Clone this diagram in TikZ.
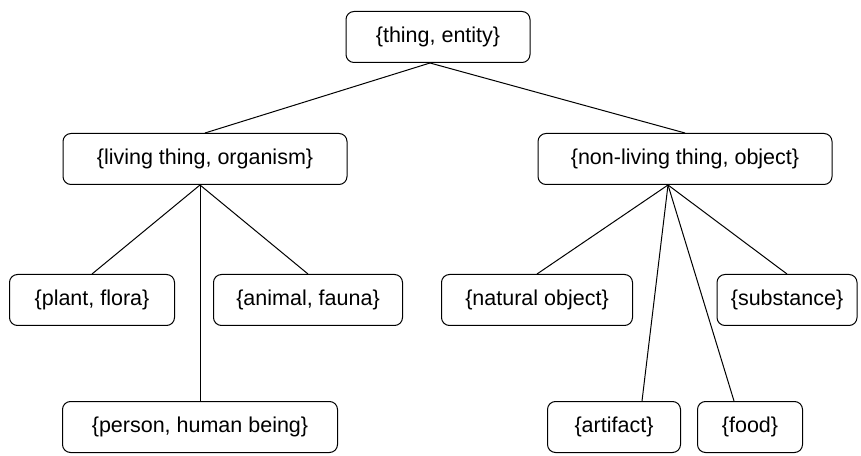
\documentclass[tikz,border=0pt]{standalone}
\usepackage{fontspec}
\setmainfont{Liberation Sans}
\usetikzlibrary{positioning}
\tikzstyle{syn}=[rectangle,draw,rounded corners=8pt,line width=1pt,minimum height=51pt,inner sep=0pt,font=\fontsize{21.5}{24}\selectfont]
\tikzstyle{hyp}=[line width=1pt]

\begin{document}
\begin{tikzpicture}[x=1pt,y=1pt]
\useasboundingbox (0,0) rectangle (861,455);
\node[syn,minimum width=184pt] (thing) at (438,418) {\{thing, entity\}};
\node[syn,minimum width=284pt] (living) at (205,296) {\{living thing, organism\}};
\node[syn,minimum width=294pt] (nonliving) at (685,296) {\{non-living thing, object\}};
\node[syn,minimum width=165pt] (plant) at (92,155) {\{plant, flora\}};
\node[syn,minimum width=189pt] (animal) at (308,155) {\{animal, fauna\}};
\node[syn,minimum width=191pt] (natural) at (537,155) {\{natural object\}};
\node[syn,minimum width=140pt] (substance) at (787,155) {\{substance\}};
\node[syn,minimum width=275pt] (person) at (200,28) {\{person, human being\}};
\node[syn,minimum width=133pt] (artifact) at (614,28) {\{artifact\}};
\node[syn,minimum width=105pt] (food) at (750,28) {\{food\}};

\coordinate (thingfan) at ([xshift=-8pt]thing.south);
\coordinate (livingfan) at ([xshift=-5pt]living.south);
\coordinate (nonlivingfan) at ([xshift=-17pt]nonliving.south);
\draw[hyp] (living.north) -- (thingfan) -- (nonliving.north);
\draw[hyp] (livingfan) -- (plant.north);
\draw[hyp] (livingfan) -- (person.north);
\draw[hyp] (livingfan) -- (animal.north);
\draw[hyp] (nonlivingfan) -- (natural.north);
\draw[hyp] (nonlivingfan) -- ([xshift=28pt]artifact.north);
\draw[hyp] (nonlivingfan) -- ([xshift=-16pt]food.north);
\draw[hyp] (nonlivingfan) -- (substance.north);
\end{tikzpicture}
\end{document}
